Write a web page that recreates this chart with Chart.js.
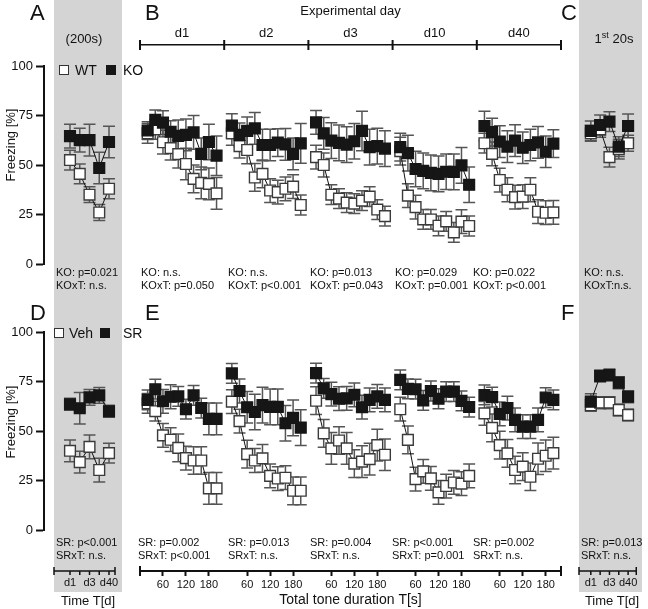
<!DOCTYPE html>
<html>
<head>
<meta charset="utf-8">
<script src="https://cdn.jsdelivr.net/npm/chart.js@4.4.1/dist/chart.umd.min.js"></script>
<style>
  body { margin: 0; background: #fff; }
  #fig { position: relative; width: 648px; height: 609px; overflow: hidden;
         font-family: "Liberation Sans", Arial, Helvetica, sans-serif; color: #111; }
  #fig canvas { position: absolute; left: 0; top: 0; }
  .gray { position: absolute; background: #d4d4d4; }
  .t { position: absolute; white-space: nowrap; line-height: 1; }
  .big { font-size: 22px; }
  .p { font-size: 11px; line-height: 13px; }
  .c { transform: translate(-50%, -50%); }
  .box { position: absolute; width: 8px; height: 8px; border: 1.5px solid #333; }
</style>
</head>
<body>
<div id="fig">
  <div class="gray" style="left:54px;top:0;width:68px;height:592px"></div>
  <div class="gray" style="left:579px;top:0;width:63px;height:592px"></div>

  <canvas id="cA" width="648" height="609"></canvas>
  <canvas id="cB" width="648" height="609"></canvas>
  <canvas id="cC" width="648" height="609"></canvas>
  <canvas id="cD" width="648" height="609"></canvas>
  <canvas id="cE" width="648" height="609"></canvas>
  <canvas id="cF" width="648" height="609"></canvas>

  <!-- panel letters -->
  <div class="t big" style="left:30px;top:2px">A</div>
  <div class="t big" style="left:145px;top:2px">B</div>
  <div class="t big" style="left:561px;top:2px">C</div>
  <div class="t big" style="left:30px;top:302px">D</div>
  <div class="t big" style="left:145px;top:302px">E</div>
  <div class="t big" style="left:561px;top:302px">F</div>

  <div class="t c" style="left:84px;top:38px;font-size:13px">(200s)</div>
  <div class="t c" style="left:614px;top:38px;font-size:13px">1<sup style="font-size:9px">st</sup> 20s</div>

  <div class="t c" style="left:10px;top:145px;font-size:13px;transform:translate(-50%,-50%) rotate(-90deg)">Freezing [%]</div>
  <div class="t c" style="left:10px;top:422px;font-size:13px;transform:translate(-50%,-50%) rotate(-90deg)">Freezing [%]</div>

  <!-- legends -->
  <div class="box" style="left:59px;top:65px;background:#fff"></div>
  <div class="t" style="left:75px;top:63px;font-size:14px">WT</div>
  <div class="box" style="left:106px;top:65px;background:#161616;border-color:#161616"></div>
  <div class="t" style="left:123px;top:63px;font-size:14px">KO</div>

  <div class="box" style="left:54px;top:328px;background:#fff"></div>
  <div class="t" style="left:69px;top:326px;font-size:14px">Veh</div>
  <div class="box" style="left:100px;top:328px;background:#161616;border-color:#161616"></div>
  <div class="t" style="left:123px;top:326px;font-size:14px">SR</div>

  <!-- statistics, top row -->
  <div class="t p" style="left:56px;top:266px">KO: p=0.021<br>KOxT: n.s.</div>
  <div class="t p" style="left:141px;top:266px">KO: n.s.<br>KOxT: p=0.050</div>
  <div class="t p" style="left:228px;top:266px">KO: n.s.<br>KOxT: p&lt;0.001</div>
  <div class="t p" style="left:310px;top:266px">KO: p=0.013<br>KOxT: p=0.043</div>
  <div class="t p" style="left:395px;top:266px">KO: p=0.029<br>KOxT: p=0.001</div>
  <div class="t p" style="left:473px;top:266px">KO: p=0.022<br>KOxT: p&lt;0.001</div>
  <div class="t p" style="left:584px;top:266px">KO: n.s.<br>KOxT:n.s.</div>

  <!-- statistics, bottom row -->
  <div class="t p" style="left:56px;top:536px">SR: p&lt;0.001<br>SRxT: n.s.</div>
  <div class="t p" style="left:138px;top:536px">SR: p=0.002<br>SRxT: p&lt;0.001</div>
  <div class="t p" style="left:228px;top:536px">SR: p=0.013<br>SRxT: n.s.</div>
  <div class="t p" style="left:310px;top:536px">SR: p=0.004<br>SRxT: n.s.</div>
  <div class="t p" style="left:392px;top:536px">SR: p&lt;0.001<br>SRxT: p=0.001</div>
  <div class="t p" style="left:473px;top:536px">SR: p=0.002<br>SRxT: n.s.</div>
  <div class="t p" style="left:581px;top:536px">SR: p=0.013<br>SRxT: n.s.</div>

  <div class="t c" style="left:88px;top:600px;font-size:13px">Time T[d]</div>
  <div class="t c" style="left:612px;top:600px;font-size:13px">Time T[d]</div>
</div>

<script>
const W = 648, H = 609;

const dayLabels = ["d1", "d2", "d3", "d10", "d40"];
const dayIndex = [0, 1, 2, 3, 4];
const miniLabels = ["d1", "", "d3", "", "d40"];
const toneTimes = [20, 40, 60, 80, 100, 120, 140, 160, 180, 200];
const toneTicks = [60, 120, 180];
const yTicks = [0, 25, 50, 75, 100];
const groupSpan = 220; // seconds of axis reserved for each day

// A - whole 200 s, WT vs KO
const wtA = [52.5, 45.5, 35, 26, 38];
const wtAErr = [5, 5, 4, 4, 5];
const koA = [64.6, 62.6, 62.6, 48.5, 61.6];
const koAErr = [6, 6, 8, 8, 8];

// B - tone by tone, one row per day (d1, d2, d3, d10, d40)
const wtB = [
  [66, 68, 61.5, 58.5, 55.5, 50.5, 43, 41, 40.5, 35.7],
  [66, 59.5, 57.6, 43.7, 45.5, 37.1, 36.3, 38, 39.1, 29.8],
  [54, 50, 35, 33, 31, 30.5, 32, 34, 27.5, 24.2],
  [57, 34.5, 28.7, 22.5, 22.5, 19.3, 21.5, 16, 21.4, 19.2],
  [61, 55.6, 42.4, 37.5, 33.8, 34, 37.5, 26.4, 25.9, 26.1],
];
const wtBErr = [
  [5, 5, 6, 6, 7, 8, 7, 8, 8, 8],
  [6, 6, 7, 7, 7, 6, 6, 6, 6, 5],
  [6, 6, 5, 5, 5, 5, 5, 5, 5, 5],
  [7, 6, 6, 5, 5, 5, 5, 5, 6, 5],
  [5, 6, 6, 6, 6, 6, 6, 6, 6, 6],
];
const koB = [
  [67.4, 72.8, 71.4, 66.8, 64.7, 65.2, 66.5, 55.6, 61.6, 54.7],
  [69.9, 65.2, 67.2, 68.5, 60.1, 60.1, 61.3, 60.4, 55.6, 60.9],
  [71.5, 66, 62.3, 61.2, 60.3, 62, 67.2, 59, 59.5, 58.3],
  [59, 56, 48, 47, 46, 45.5, 46.6, 46.5, 49.8, 40],
  [69.7, 66.6, 61.8, 59.3, 62.3, 58.7, 60.1, 61.4, 56.7, 60.8],
];
const koBErr = [
  [4.5, 5, 6, 5.5, 8, 8, 8.5, 8, 9, 10],
  [6, 6, 7, 8, 8, 8, 7, 8, 8, 10],
  [6, 8, 9, 9, 9, 9, 10, 9, 9, 9],
  [7, 9, 9, 9, 9, 9, 9, 9, 9, 9],
  [7.5, 7, 8, 8, 8, 8, 8, 8, 8, 7],
];

// C - first 20 s, WT vs KO
const wtC = [66, 68, 54, 58, 61];
const wtCErr = [4, 4, 5, 5, 4];
const koC = [67.2, 70.2, 71.9, 59.3, 69.7];
const koCErr = [5, 5, 5, 5, 6];

// D - whole 200 s, Veh vs SR
const vehD = [40, 34.3, 42, 30.3, 38.8];
const vehDErr = [5.5, 5.5, 6, 6, 5];
const srD = [63.5, 61.5, 67, 68, 60];
const srDErr = [3, 8, 4, 4, 3];

// E - tone by tone, Veh vs SR
const vehE = [
  [64, 60, 47.8, 45.6, 41.5, 36.3, 35.1, 35.1, 21, 21],
  [64.8, 55, 38.3, 35.1, 36.2, 27.3, 26, 26.4, 19.8, 19.8],
  [65.3, 48.8, 41.2, 45.2, 41.2, 33.5, 34.5, 35.8, 42.9, 38],
  [61, 45.5, 25.7, 29.6, 26.1, 19, 22.2, 24, 23.4, 27.3],
  [58.9, 51.6, 42.9, 38.7, 30.3, 32, 26.9, 36, 37.5, 38.8],
];
const vehEErr = [
  [5, 5, 6, 6, 7, 6, 7, 7, 8, 8],
  [6, 6, 7, 6, 7, 6, 6, 6, 7, 7],
  [7, 7, 8, 7, 8, 7, 8, 8, 8, 8],
  [6, 7, 6, 6, 6, 6, 6, 6, 6, 6],
  [6, 7, 7, 7, 7, 7, 7, 8, 8, 8],
];
const srE = [
  [65.7, 71.1, 65, 67.3, 67.5, 61, 68, 61.6, 56.1, 56.1],
  [79.1, 70.2, 62, 59.6, 63.1, 62.2, 62.2, 53.9, 56.6, 51.7],
  [79.2, 71.5, 68.6, 66.3, 66.5, 68.3, 62, 65.7, 67.5, 65.7],
  [75.8, 71.3, 71.1, 65.5, 70.2, 66.3, 69.9, 69.9, 65.2, 62.1],
  [68.2, 67.1, 58.6, 61.6, 55.6, 52.2, 52.2, 55.6, 66.9, 65.7],
];
const srEErr = [
  [5, 5, 6, 6, 5, 5, 5, 5, 8, 8],
  [5, 6, 8, 9, 9, 9, 9, 9, 9, 9],
  [5, 5, 6, 6, 6, 6, 6, 6, 6, 6],
  [5, 5, 5, 5, 5, 5, 5, 5, 5, 5],
  [5, 5, 6, 6, 6, 6, 6, 6, 5, 5],
];

// F - first 20 s, Veh vs SR
const vehF = [63, 64.3, 64.3, 60.6, 58.1];
const vehFErr = [3, 3, 3, 3, 3];
const srF = [64.8, 77.8, 78.3, 74.4, 67.3];
const srFErr = [4, 3, 3, 3, 3];

Chart.defaults.font.family = "'Liberation Sans', Arial, Helvetica, sans-serif";
Chart.defaults.color = "#111";
Chart.defaults.animation = false;
Chart.defaults.events = [];
Chart.defaults.plugins.legend.display = false;
Chart.defaults.plugins.tooltip.enabled = false;

const pxPerUnit = 1.98; // 100 % = 198 px in the figure

function serie(xs, ys, errs, filled) {
  return {
    data: ys.map((y, i) => ({ x: xs[i], y: y })),
    err: errs,
    showLine: true,
    borderColor: "#111",
    borderWidth: 1,
    pointStyle: "rect",
    pointRadius: 7.6,
    pointBackgroundColor: filled ? "#161616" : "#ffffff",
    pointBorderColor: filled ? "#161616" : "#3a3a3a",
    pointBorderWidth: 1.4,
    clip: false,
  };
}

// dark markers first so they end up on top
function pairSets(white, whiteErr, black, blackErr) {
  return [serie(dayIndex, black, blackErr, true), serie(dayIndex, white, whiteErr, false)];
}

function groupSets(white, whiteErr, black, blackErr) {
  const sets = [];
  dayLabels.forEach((d, g) => {
    const xs = toneTimes.map(t => g * groupSpan + t);
    sets.push(serie(xs, black[g], blackErr[g], true));
  });
  dayLabels.forEach((d, g) => {
    const xs = toneTimes.map(t => g * groupSpan + t);
    sets.push(serie(xs, white[g], whiteErr[g], false));
  });
  return sets;
}

const errorBars = {
  id: "errorBars",
  beforeDatasetsDraw(chart) {
    const ctx = chart.ctx, x = chart.scales.x, y = chart.scales.y;
    ctx.save();
    ctx.strokeStyle = "#555";
    ctx.lineWidth = 1.5;
    chart.data.datasets.forEach(ds => {
      ds.data.forEach((p, i) => {
        const e = ds.err[i];
        const px = x.getPixelForValue(p.x);
        const top = y.getPixelForValue(p.y + e);
        const bot = y.getPixelForValue(p.y - e);
        ctx.beginPath();
        ctx.moveTo(px, top); ctx.lineTo(px, bot);
        ctx.moveTo(px - 6, top); ctx.lineTo(px + 6, top);
        ctx.moveTo(px - 6, bot); ctx.lineTo(px + 6, bot);
        ctx.stroke();
      });
    });
    ctx.restore();
  },
};

// bracket marks, axis end caps and the small day axes
const decor = {
  id: "decor",
  afterDraw(chart, args, opts) {
    const ctx = chart.ctx;
    ctx.save();
    ctx.strokeStyle = "#111";
    ctx.fillStyle = "#111";
    ctx.lineWidth = 2;
    if (opts.bracket) {
      const s = chart.scales.xTop, yy = chart.chartArea.top;
      for (let g = 0; g <= dayLabels.length; g++) {
        const px = s.getPixelForValue(g * groupSpan);
        ctx.beginPath(); ctx.moveTo(px, yy - 5); ctx.lineTo(px, yy + 5); ctx.stroke();
      }
    }
    if (opts.ends) {
      const s = chart.scales.x, yy = chart.chartArea.bottom;
      [s.min, s.max].forEach(v => {
        const px = s.getPixelForValue(v);
        ctx.beginPath(); ctx.moveTo(px, yy - 5); ctx.lineTo(px, yy + 5); ctx.stroke();
      });
    }
    if (opts.mini) {
      const m = opts.mini, s = chart.scales.x;
      const yy = chart.chartArea.bottom + m.below;
      const a = s.getPixelForValue(m.from), b = s.getPixelForValue(m.to);
      ctx.lineWidth = 1.5;
      ctx.beginPath(); ctx.moveTo(a, yy); ctx.lineTo(b, yy); ctx.stroke();
      [a, b].forEach(px => { ctx.beginPath(); ctx.moveTo(px, yy - 4); ctx.lineTo(px, yy + 4); ctx.stroke(); });
      ctx.font = "11px 'Liberation Sans', Arial, sans-serif";
      ctx.textAlign = "center";
      ctx.textBaseline = "middle";
      dayIndex.forEach(i => {
        const px = s.getPixelForValue(i);
        ctx.beginPath(); ctx.moveTo(px, yy); ctx.lineTo(px, yy + 4); ctx.stroke();
        if (miniLabels[i]) ctx.fillText(miniLabels[i], px, yy + 12);
      });
    }
    ctx.restore();
  },
};

function leftAxis() {
  return {
    min: 0, max: 100,
    afterBuildTicks: s => { s.ticks = yTicks.map(v => ({ value: v })); },
    afterFit: s => { s.width = 44; },
    ticks: { font: { size: 13 }, color: "#111", padding: 3 },
    grid: { drawOnChartArea: false, tickLength: 8, tickWidth: 2, tickColor: "#111" },
    border: { width: 2, color: "#111" },
  };
}

function panel(id, datasets, scales, padding, decorOpts) {
  return new Chart(document.getElementById(id), {
    type: "scatter",
    data: { datasets },
    options: {
      responsive: false,
      layout: { padding },
      scales,
      plugins: { decor: decorOpts || {} },
    },
    plugins: [errorBars, decor],
  });
}

// A: axis at x=44, gray column up to 122, first day at 70 px, 9.75 px apart
panel("cA", pairSets(wtA, wtAErr, koA, koAErr), {
  x: { type: "linear", display: false, min: -26 / 9.75, max: 52 / 9.75 },
  y: leftAxis(),
}, { left: 0, top: 66, right: W - 122, bottom: H - 264 });

panel("cD", pairSets(vehD, vehDErr, srD, srDErr), {
  x: { type: "linear", display: false, min: -26 / 9.75, max: 52 / 9.75 },
  y: leftAxis(),
}, { left: 0, top: 332, right: W - 122, bottom: H - 530 },
{ mini: { below: 41, from: -16 / 9.75, to: 45 / 9.75 } });

// C / F: gray column 579..645, first day at 592 px, 10.25 px apart
panel("cC", pairSets(wtC, wtCErr, koC, koCErr), {
  x: { type: "linear", display: false, min: -13 / 10.25, max: 53 / 10.25 },
  y: { display: false, min: 0, max: 100 },
}, { left: 579, top: 66, right: W - 645, bottom: H - 264 });

panel("cF", pairSets(vehF, vehFErr, srF, srFErr), {
  x: { type: "linear", display: false, min: -13 / 10.25, max: 53 / 10.25 },
  y: { display: false, min: 0, max: 100 },
}, { left: 579, top: 332, right: W - 645, bottom: H - 530 },
{ mini: { below: 41, from: -13 / 10.25, to: 50 / 10.25 } });

// B: five days side by side, bracket line 21 px above 100 %
panel("cB", groupSets(wtB, wtBErr, koB, koBErr), {
  x: { type: "linear", display: false, min: 0, max: dayLabels.length * groupSpan },
  xTop: {
    axis: "x", type: "linear", position: "top", min: 0, max: dayLabels.length * groupSpan,
    afterBuildTicks: s => { s.ticks = dayLabels.map((d, g) => ({ value: g * groupSpan + groupSpan / 2 })); },
    afterFit: s => { s.height = 45; },
    ticks: { callback: (v, i) => dayLabels[i], font: { size: 13 }, padding: 4, autoSkip: false, maxRotation: 0 },
    grid: { drawOnChartArea: false, drawTicks: false },
    border: { width: 1.5, color: "#111" },
    title: { display: true, text: "Experimental day", font: { size: 13 }, padding: { top: 4, bottom: 0 } },
  },
  y: { display: false, min: 0, max: 100 + 21 / pxPerUnit },
}, { left: 140, top: 0, right: W - 561, bottom: H - 264 }, { bracket: true });

// E: tone-duration axis 41 px below 0 %
panel("cE", groupSets(vehE, vehEErr, srE, srEErr), {
  x: {
    type: "linear", position: "bottom", min: 0, max: dayLabels.length * groupSpan,
    afterBuildTicks: s => {
      const t = [];
      dayLabels.forEach((d, g) => toneTicks.forEach(v => t.push({ value: g * groupSpan + v })));
      s.ticks = t;
    },
    afterFit: s => { s.height = H - 571; },
    ticks: { callback: v => v % groupSpan, font: { size: 11 }, padding: 2, autoSkip: false, maxRotation: 0 },
    grid: { drawOnChartArea: false, tickLength: 5, tickWidth: 2, tickColor: "#111" },
    border: { width: 2, color: "#111" },
    title: { display: true, text: "Total tone duration T[s]", font: { size: 14 }, padding: { top: 0, bottom: 0 } },
  },
  y: { display: false, min: -41 / pxPerUnit, max: 100 },
}, { left: 140, top: 332, right: W - 561, bottom: 0 }, { ends: true });
</script>
</body>
</html>
